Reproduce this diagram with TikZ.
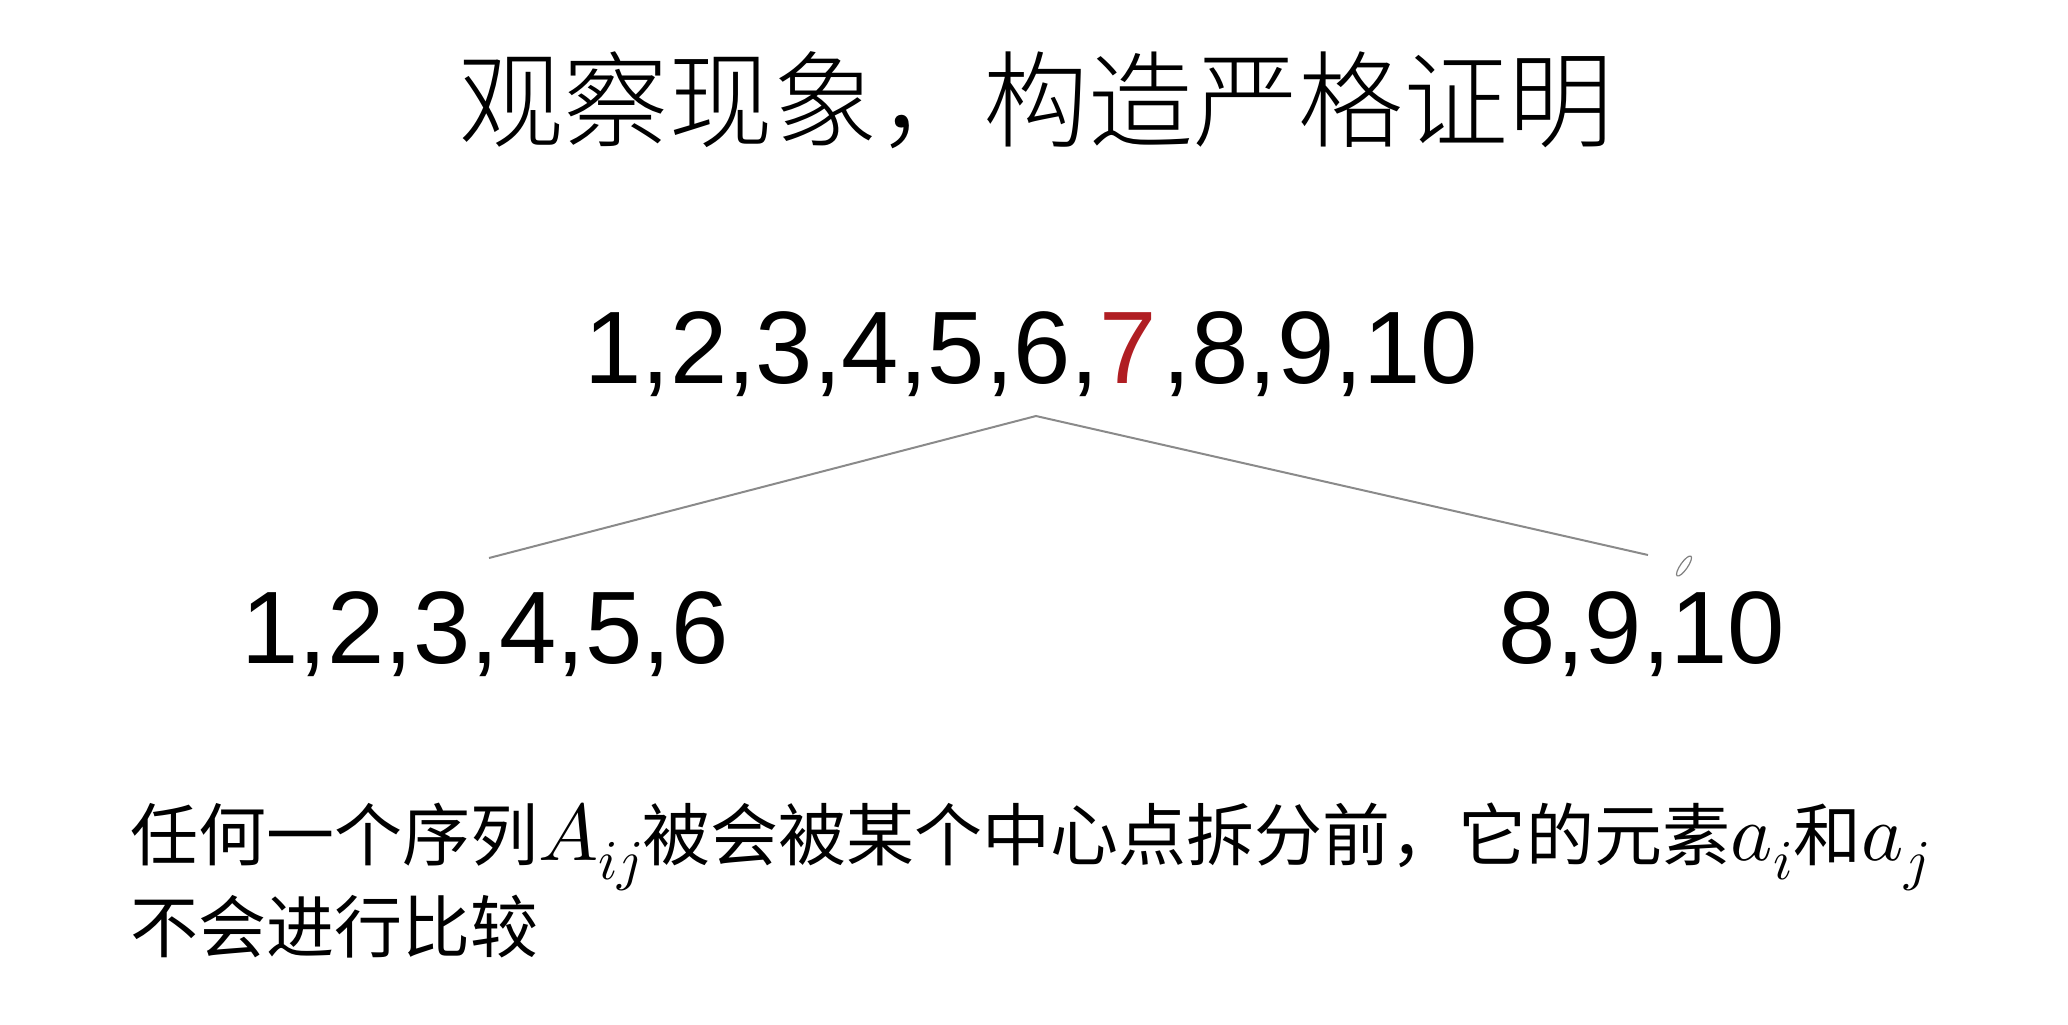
\documentclass[tikz,border=0pt]{standalone}
\usepackage{fontspec}
\usepackage{unicode-math}
\setmainfont{Liberation Sans}
\setmathfont{Latin Modern Math}[Scale=1.18]
\newfontfamily\cjk{Noto Sans CJK SC}
\newfontfamily\cjktitle{Noto Sans CJK SC Light}
\definecolor{sevenred}{HTML}{B01E23}
\definecolor{linegray}{HTML}{8A8A8A}
\tikzset{
  titletext/.style={inner sep=0pt, font=\cjktitle\fontsize{52.5pt}{60pt}\selectfont},
  numtext/.style={inner sep=0pt, anchor=base, font=\fontsize{51.5pt}{60pt}\selectfont},
  bodytext/.style={inner sep=0pt, anchor=base west, font=\cjk\fontsize{34pt}{44pt}\selectfont},
  splitline/.style={draw=linegray, line width=1pt}
}
\begin{document}
\begin{tikzpicture}[x=0.5pt,y=-0.5pt]
\useasboundingbox (0,0) rectangle (2068,1024);
\node[titletext] (title) at (1036,100) {观察现象，构造严格证明};
\node[numtext] (all) at (1031,383) {1,2,3,4,5,6,{\color{sevenred}7}\kern3pt,8,9,10};
\node[numtext] (left) at (485,663) {1,2,3,4,5,6};
\node[numtext] (right) at (1642,663) {8,9,10};
\coordinate (apex) at (1036,416);
\coordinate (lend) at (489,558);
\coordinate (rend) at (1648,555);
\draw[splitline] (lend) -- (apex) -- (rend);
\draw[gray, line width=0.6pt, rotate around={55:(1684,566)}] (1684,566) ellipse [x radius=6pt, y radius=1.8pt];
\node[bodytext] (line1) at (130,860) {任何一个序列$A_{ij}$被会被某个中心点拆分前，它的元素$a_i$和$a_j$};
\node[bodytext] (line2) at (130,952) {不会进行比较};
\end{tikzpicture}
\end{document}
